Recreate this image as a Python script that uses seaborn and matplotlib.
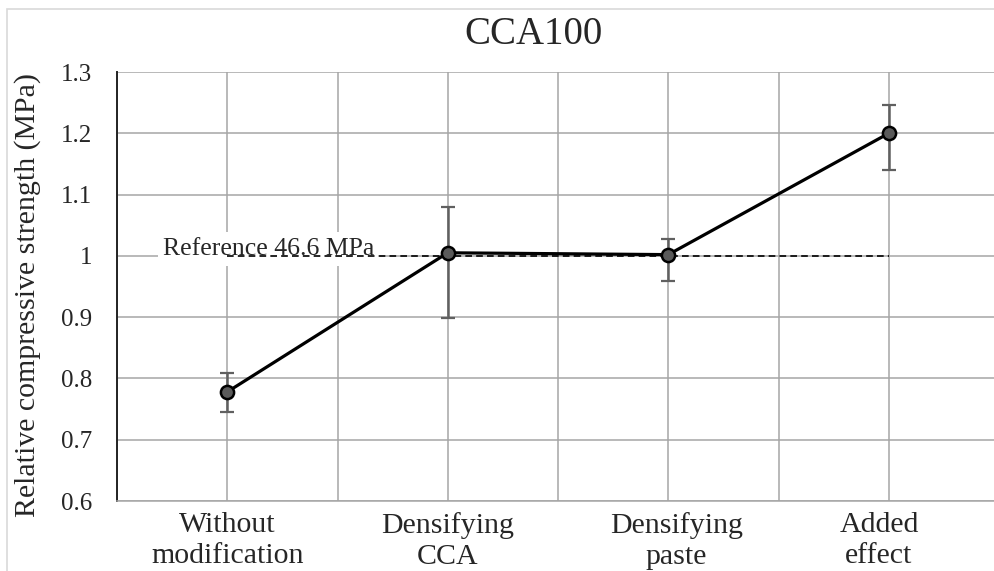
import numpy as np
import pandas as pd
import matplotlib
matplotlib.use("Agg")
import matplotlib.pyplot as plt
import matplotlib.transforms as mtransforms
from matplotlib.patches import Rectangle
import seaborn as sns

# Data
categories = ["Without\nmodification", "Densifying\nCCA", "Densifying\npaste", "Added\neffect"]
strength = [0.778, 1.005, 1.002, 1.200]
err_low = [0.032, 0.106, 0.043, 0.060]
err_high = [0.031, 0.074, 0.025, 0.046]
reference_value = 1.0
reference_label = "Reference 46.6 MPa"
yticks = [0.6, 0.7, 0.8, 0.9, 1.0, 1.1, 1.2, 1.3]

sns.set_theme(style="white")
plt.rcParams["font.family"] = ["Liberation Serif", "DejaVu Serif"]

fig = plt.figure(figsize=(9.94, 5.71), dpi=100)
ax = fig.add_axes([117 / 994, 1 - 501 / 571, 882 / 994, 429 / 571])

# categories sit on every other unit of a 0..8 axis
xpos = np.arange(len(categories)) * 2 + 1
df = pd.DataFrame({"x": xpos, "y": strength})

grid_c = "#a6a6a6"

# reference line
ax.plot([xpos[0], xpos[-1]], [reference_value, reference_value],
        color="black", lw=1.2, ls=(0, (4, 2.5)), zorder=4)

# error bars
ax.errorbar(xpos, strength, yerr=[err_low, err_high], fmt="none",
            ecolor="#606060", elinewidth=1.8, capsize=4.8, capthick=1.6, zorder=3)

sns.lineplot(data=df, x="x", y="y", ax=ax, color="black", lw=2.3,
             marker="o", markersize=9.5, markerfacecolor="#5a5a5a",
             markeredgecolor="black", markeredgewidth=1.8, zorder=5)

ax.text(0.42, 1.0015, reference_label, fontsize=18.5, va="baseline", ha="left",
        zorder=3.5, bbox=dict(facecolor="white", edgecolor="none", pad=4))

ax.set_xlim(0, 8)
ax.set_ylim(0.6, 1.3)
ax.set_xticks(xpos)
ax.set_xticklabels(categories, fontsize=21.5, linespacing=1.25)
ax.set_xticks(np.arange(0, 9), minor=True)
ax.set_yticks(yticks)
ax.set_yticklabels([f"{v:g}" for v in yticks], fontsize=18)
ax.tick_params(axis="both", which="both", length=0)
ax.tick_params(axis="y", pad=18)
ax.tick_params(axis="x", pad=8)

# nudge the last two category labels sideways (points)
label_shift = [0, 0, 6, -7]
for lbl, dx in zip(ax.get_xticklabels(), label_shift):
    lbl.set_transform(lbl.get_transform() +
                      mtransforms.ScaledTranslation(dx / 72, 0, fig.dpi_scale_trans))

ax.grid(True, which="both", color=grid_c, lw=1.1, zorder=0)
ax.set_axisbelow(True)

for s in ["top", "right"]:
    ax.spines[s].set_visible(False)
ax.spines["left"].set_color("#222222")
ax.spines["left"].set_linewidth(1.4)
ax.spines["bottom"].set_color(grid_c)
ax.spines["bottom"].set_linewidth(1.1)

ax.set_xlabel("")
ax.set_ylabel("Relative compressive strength (MPa)", fontsize=21.5)
ax.yaxis.set_label_coords(-0.086, 0.48)

fig.text(533 / 994, 1 - 35 / 571, "CCA100", fontsize=28, ha="center", va="center")

# chart area border
fig.patches.append(Rectangle((7 / 994, -0.1), 1.2, 1 - 9 / 571 + 0.1,
                             transform=fig.transFigure, fill=False,
                             edgecolor="#d9d9d9", lw=1.2, zorder=0))

fig.savefig("out.png", dpi=100)
